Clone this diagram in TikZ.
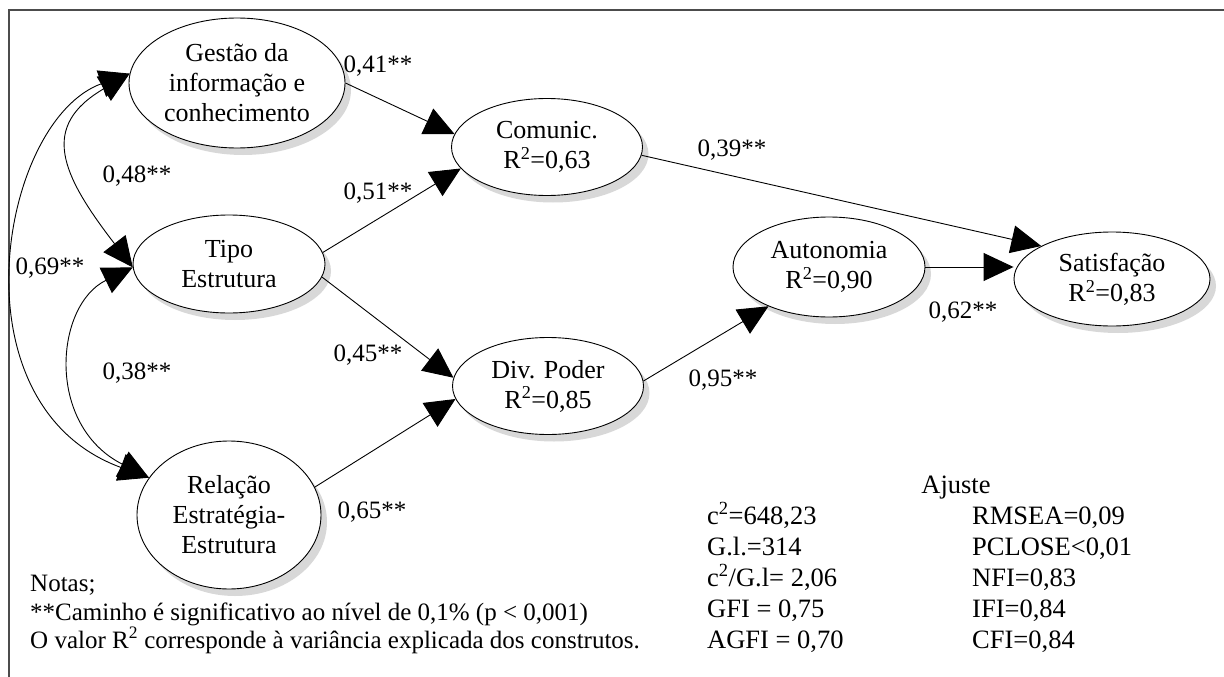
\documentclass[tikz,border=0pt]{standalone}
\usepackage{fontspec}
\setmainfont{Liberation Serif}
\usetikzlibrary{arrows.meta,shapes.geometric,shadows}
\tikzset{
  sem/latent/.style={ellipse, draw, line width=0.9pt, fill=white, inner sep=0pt,
                     align=center, font=\fontsize{26}{30}\selectfont,
                     drop shadow={shadow xshift=6pt, shadow yshift=-7pt, fill=black!30}},
  sem/path/.style={-{Triangle[length=30pt,width=28pt]}, line width=0.9pt},
  sem/cov/.style={{Triangle[length=30pt,width=28pt]}-{Triangle[length=30pt,width=28pt]},
                  line width=0.9pt},
  sem/coef/.style={font=\fontsize{25}{29}\selectfont, inner sep=0pt},
  sem/note/.style={sem/coef, anchor=base west},
  sem/fit/.style={font=\fontsize{26.5}{31}\selectfont, inner sep=0pt, anchor=base west},
}

\begin{document}
\begin{tikzpicture}[x=1pt, y=-1pt]
  \useasboundingbox (0,0) rectangle (1224,677);
  \draw[line width=2pt, black!70] (9,677) -- (9,10) -- (1224,10);

  % ---------------- exogenous constructs ----------------
  \node[sem/latent, minimum width=216pt, minimum height=130pt] (gestao) at (237,83)
    {Gestão da\\informação e\\conhecimento};
  \node[sem/latent, minimum width=192pt, minimum height=98pt] (tipo) at (229,264)
    {Tipo\\Estrutura};
  \node[sem/latent, minimum width=184pt, minimum height=148pt] (relacao) at (229,515)
    {Relação\\Estratégia-\\Estrutura};

  % ---------------- endogenous constructs ----------------
  \node[sem/latent, minimum width=191pt, minimum height=97pt] (comunic) at (547,147)
    {Comunic.\\R\textsuperscript{2}=0,63};
  \node[sem/latent, minimum width=191pt, minimum height=97pt] (divp) at (548,386)
    {Div. Poder\\R\textsuperscript{2}=0,85};
  \node[sem/latent, minimum width=192pt, minimum height=100pt] (auton) at (829,267)
    {Autonomia\\R\textsuperscript{2}=0,90};
  \node[sem/latent, minimum width=196pt, minimum height=94pt] (satisf) at (1112,279)
    {Satisfação\\R\textsuperscript{2}=0,83};

  % ---------------- correlations ----------------
  \draw[sem/cov] (gestao.175) .. controls (40,126) and (60,173) .. (tipo.182);
  \draw[sem/cov] (tipo.182) .. controls (55,305) and (45,425) .. (relacao.155);
  \draw[sem/cov] (gestao.175) .. controls (0,120) and (-50,405) .. (relacao.155);
  \node[sem/coef] (c48) at (137,176) {0,48**};
  \node[sem/coef] (c69) at (50,268) {0,69**};
  \node[sem/coef] (c38) at (137,373) {0,38**};

  % ---------------- structural paths ----------------
  \draw[sem/path] (gestao.east) -- (comunic.172);
  \node[sem/coef] (p41) at (378,66) {0,41**};
  \draw[sem/path] (tipo.7) -- (comunic.194);
  \node[sem/coef] (p51) at (378,193) {0,51**};
  \draw[sem/path] (tipo.-8) -- (divp.175);
  \node[sem/coef] (p45) at (368,355) {0,45**};
  \draw[sem/path] (relacao.18) -- (divp.188);
  \node[sem/coef] (p65) at (372,512) {0,65**};
  \draw[sem/path] (comunic.-5) -- (satisf.155);
  \node[sem/coef] (p39) at (732,150) {0,39**};
  \draw[sem/path] (divp.3) -- (auton.213);
  \node[sem/coef] (p95) at (723,380) {0,95**};
  \draw[sem/path] (auton.east) -- (auton.east -| satisf.west);
  \node[sem/coef] (p62) at (963,312) {0,62**};

  % ---------------- notes ----------------
  \node[sem/note] (notas) at (30,591) {Notas;};
  \node[sem/note] (nota1) at (30,620)
    {**Caminho é significativo ao nível de 0,1\% (p < 0,001)};
  \node[sem/note] (nota2) at (30,648)
    {O valor R\textsuperscript{2} corresponde à variância explicada dos construtos.};

  % ---------------- fit indices ----------------
  \node[sem/fit, anchor=base] (ajuste) at (956,493) {Ajuste};
  \node[sem/fit] (chi)   at (707,524) {c\textsuperscript{2}=648,23};
  \node[sem/fit] (gl)    at (707,555) {G.l.=314};
  \node[sem/fit] (chigl) at (707,586) {c\textsuperscript{2}/G.l= 2,06};
  \node[sem/fit] (gfi)   at (707,617) {GFI = 0,75};
  \node[sem/fit] (agfi)  at (707,648) {AGFI = 0,70};
  \node[sem/fit] (rmsea)  at (972,524) {RMSEA=0,09};
  \node[sem/fit] (pclose) at (972,555) {PCLOSE<0,01};
  \node[sem/fit] (nfi)    at (972,586) {NFI=0,83};
  \node[sem/fit] (ifi)    at (972,617) {IFI=0,84};
  \node[sem/fit] (cfi)    at (972,648) {CFI=0,84};
\end{tikzpicture}
\end{document}
